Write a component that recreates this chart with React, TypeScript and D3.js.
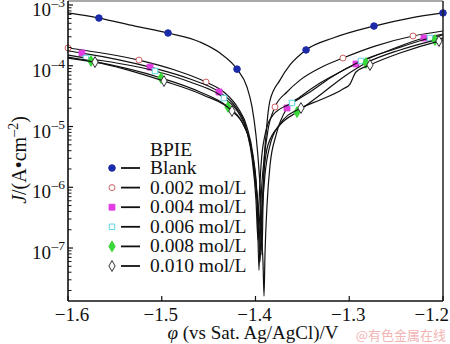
import React from 'react';
import * as d3 from 'd3';

// ---- data ----
const xTicks = [-1.6, -1.5, -1.4, -1.3, -1.2];
const yDecades = [-3, -4, -5, -6, -7];
const legendTitle = 'BPIE';
const seriesNames = ['Blank', '0.002 mol/L', '0.004 mol/L', '0.006 mol/L', '0.008 mol/L', '0.010 mol/L'];

const blankE = [-1.6, -1.567, -1.5285, -1.4933, -1.4592, -1.4379, -1.4197, -1.4091, -1.4037, -1.3995, -1.3963, -1.3941, -1.3931, -1.392, -1.3909, -1.3888, -1.3845, -1.3739, -1.3632, -1.3461, -1.3173, -1.2736, -1.2352, -1.2];
const blankJ = [7.4e-4, 6.1e-4, 4.5e-4, 3.46e-4, 2.46e-4, 1.62e-4, 8.8e-5, 4.47e-5, 2.1e-5, 7.2e-6, 1.92e-6, 4.2e-7, 7.7e-8, 5.1e-7, 2.3e-6, 7.2e-6, 2.7e-5, 5.8e-5, 1.03e-4, 1.82e-4, 2.86e-4, 4.5e-4, 6.1e-4, 7.4e-4];
const blankMarkE = [-1.567, -1.4933, -1.4197, -1.3461, -1.2736, -1.2];

const c002E = [-1.6, -1.5243, -1.4859, -1.4528, -1.4325, -1.4187, -1.4091, -1.4027, -1.3984, -1.3963, -1.3941, -1.3909, -1.3867, -1.3792, -1.3664, -1.3525, -1.3312, -1.3067, -1.2725, -1.232, -1.2];
const c002J = [1.96e-4, 1.24e-4, 8.5e-5, 5.4e-5, 3.56e-5, 2.02e-5, 9.8e-6, 3.4e-6, 7.5e-7, 4.3e-8, 6.2e-7, 2.8e-6, 8.7e-6, 2.1e-5, 3.7e-5, 5.8e-5, 9.2e-5, 1.34e-4, 2.11e-4, 3.09e-4, 3.73e-4];
const c002MarkE = [-1.6, -1.5243, -1.4528, -1.3792, -1.3067, -1.232];

const c004E = [-1.6, -1.5851, -1.5125, -1.4699, -1.4389, -1.4219, -1.4112, -1.4048, -1.3995, -1.3952, -1.392, -1.3909, -1.3899, -1.3877, -1.3845, -1.3781, -1.3664, -1.3525, -1.3312, -1.3099, -1.2928, -1.2565, -1.2203, -1.2];
const c004J = [1.75e-4, 1.62e-4, 9.5e-5, 6.05e-5, 3.7e-5, 2.17e-5, 1.1e-5, 4.4e-6, 1.09e-6, 2.39e-7, 5.9e-8, 1.62e-8, 7.7e-8, 5.1e-7, 2.3e-6, 7.2e-6, 2.02e-5, 3.06e-5, 5.2e-5, 7.9e-5, 1.07e-4, 1.82e-4, 2.86e-4, 3.33e-4];
const c004MarkE = [-1.5851, -1.5125, -1.4389, -1.3664, -1.2928, -1.2203];

const c006E = [-1.6, -1.5808, -1.5072, -1.4699, -1.4336, -1.4187, -1.4091, -1.4037, -1.3995, -1.3973, -1.3963, -1.3941, -1.3899, -1.3813, -1.3611, -1.3419, -1.3205, -1.2875, -1.2512, -1.2139, -1.2];
const c006J = [1.5e-4, 1.34e-4, 8.2e-5, 5.4e-5, 2.94e-5, 1.73e-5, 8.1e-6, 3.0e-6, 6.2e-7, 1.35e-7, 5.1e-7, 2.3e-6, 7.2e-6, 1.55e-5, 2.44e-5, 3.7e-5, 6.3e-5, 1.2e-4, 1.89e-4, 2.86e-4, 3.21e-4];
const c006MarkE = [-1.5808, -1.5072, -1.4336, -1.3611, -1.2875, -1.2139];

const c008E = [-1.6, -1.5755, -1.5008, -1.4592, -1.4293, -1.4144, -1.4059, -1.4005, -1.3973, -1.3941, -1.3931, -1.3909, -1.3867, -1.3739, -1.3557, -1.3312, -1.3045, -1.2821, -1.2459, -1.2085, -1.2];
const c008J = [1.39e-4, 1.2e-4, 6.3e-5, 3.7e-5, 2.1e-5, 1.19e-5, 5.6e-6, 1.78e-6, 4.2e-7, 9.3e-8, 3.9e-7, 1.78e-6, 4.96e-6, 1.06e-5, 1.73e-5, 3.3e-5, 6.8e-5, 1.11e-4, 1.82e-4, 2.65e-4, 2.86e-4];
const c008MarkE = [-1.5755, -1.5008, -1.4293, -1.3557, -1.2821, -1.2085];

const c010E = [-1.6, -1.5712, -1.4976, -1.456, -1.4251, -1.4123, -1.4048, -1.4005, -1.3973, -1.3952, -1.3931, -1.3899, -1.3845, -1.3739, -1.3515, -1.3312, -1.3067, -1.2992, -1.2928, -1.2779, -1.2459, -1.2043, -1.2];
const c010J = [1.34e-4, 1.15e-4, 5.6e-5, 3.3e-5, 1.8e-5, 1.02e-5, 4.6e-6, 1.42e-6, 3.5e-7, 5.9e-8, 3.5e-7, 1.59e-6, 4.96e-6, 1.1e-5, 2.02e-5, 2.73e-5, 4.14e-5, 5.0e-5, 7.9e-5, 1.03e-4, 1.62e-4, 2.55e-4, 2.65e-4];
const c010MarkE = [-1.5712, -1.4976, -1.4251, -1.3515, -1.2779, -1.2043];

const W = 450, H = 344;
const M = { left: 68, right: 443, top: 1, bottom: 301 };
const SERIF = { fontFamily: "'Liberation Serif', 'Times New Roman', Times, serif" };
const DASH = '\u2013';

type Style = { symbol: d3.SymbolType; size: number; fill: string; stroke: string };
const styles: Style[] = [
  { symbol: d3.symbolCircle, size: 34, fill: '#1a2aa8', stroke: '#1a2aa8' },
  { symbol: d3.symbolCircle, size: 28, fill: '#ffffff', stroke: '#cc6060' },
  { symbol: d3.symbolSquare, size: 34, fill: '#e03ce0', stroke: '#e03ce0' },
  { symbol: d3.symbolSquare, size: 30, fill: '#ffffff', stroke: '#5cd6e0' },
  { symbol: d3.symbolDiamond, size: 34, fill: '#38d838', stroke: '#38d838' },
  { symbol: d3.symbolDiamond, size: 34, fill: '#ffffff', stroke: '#333333' },
];

const seriesData = [
  { E: blankE, J: blankJ, mk: blankMarkE },
  { E: c002E, J: c002J, mk: c002MarkE },
  { E: c004E, J: c004J, mk: c004MarkE },
  { E: c006E, J: c006J, mk: c006MarkE },
  { E: c008E, J: c008J, mk: c008MarkE },
  { E: c010E, J: c010J, mk: c010MarkE },
];

function interpLog(E: number[], J: number[], e: number): number {
  for (let i = 0; i < E.length - 1; i++) {
    if (e >= E[i] - 1e-9 && e <= E[i + 1] + 1e-9) {
      const t = (e - E[i]) / (E[i + 1] - E[i]);
      return Math.pow(10, Math.log10(J[i]) + t * (Math.log10(J[i + 1]) - Math.log10(J[i])));
    }
  }
  return J[J.length - 1];
}

export default function App() {
  const x = d3.scaleLinear().domain([-1.6, -1.2]).range([M.left, M.right]);
  const y = d3.scaleLog().domain([1.343e-8, 1.164e-3]).range([M.bottom, M.top]);
  const line = d3.line<[number, number]>().x(d => x(d[0])).y(d => y(d[1])).curve(d3.curveMonotoneX);

  const minor: number[] = [];
  for (let k = -9; k <= -3; k++) {
    for (let m = 2; m <= 9; m++) {
      const v = m * Math.pow(10, k);
      if (v > y.domain()[0] && v < y.domain()[1]) minor.push(v);
    }
  }

  const legendRows = [174, 193.6, 213.2, 232.8, 252.4, 272];

  return (
    <svg width={W} height={H} style={{ position: 'absolute', left: 0, top: 0, background: '#fff' }}>
      <rect x={0} y={0} width={W} height={H} fill="#fff" />
      {/* curves + markers */}
      {seriesData.map((s, i) => {
        const pts = s.E.map((e, j) => [e, s.J[j]] as [number, number]);
        const st = styles[i];
        const sym = d3.symbol().type(st.symbol).size(st.size)();
        return (
          <g key={i}>
            <path d={line(pts) || ''} fill="none" stroke="#111" strokeWidth={1.2} />
            {s.mk.map((e, j) => (
              <path key={j} d={sym || ''} transform={`translate(${x(e)},${y(interpLog(s.E, s.J, e))})`}
                fill={st.fill} stroke={st.stroke} strokeWidth={1} />
            ))}
          </g>
        );
      })}
      {/* frame */}
      <line x1={M.left} x2={M.right} y1={M.top} y2={M.top} stroke="#555" strokeWidth={1.2} />
      <line x1={M.right} x2={M.right} y1={M.top} y2={M.bottom} stroke="#222" strokeWidth={1.5} />
      <line x1={M.left} x2={M.left} y1={M.top} y2={M.bottom} stroke="#111" strokeWidth={1.6} />
      <line x1={M.left} x2={M.right} y1={M.bottom} y2={M.bottom} stroke="#111" strokeWidth={1.6} />
      {/* x ticks */}
      {xTicks.map((t, i) => {
        const last = i === xTicks.length - 1;
        const first = i === 0;
        return (
          <g key={t}>
            <line x1={x(t)} x2={x(t)} y1={M.bottom} y2={M.bottom - 5} stroke="#111" strokeWidth={1.2} />
            <text x={last ? 449 : x(t) + (first ? 4 : -1)} y={321} textAnchor={last ? 'end' : 'middle'}
              fontSize={19} fill="#111" style={SERIF}>{d3.format('.1f')(t).replace('-', DASH)}</text>
          </g>
        );
      })}
      {/* y ticks */}
      {yDecades.map(k => {
        const yy = y(Math.pow(10, k));
        return (
          <g key={k}>
            <line x1={M.left} x2={M.left + 5} y1={yy} y2={yy} stroke="#111" strokeWidth={1.2} />
            <text x={51} y={yy + 11} textAnchor="end" fontSize={19} fill="#111" style={SERIF}>10</text>
            <text x={51.5} y={yy + 2} textAnchor="start" fontSize={13.5} fill="#111" style={SERIF}>{DASH + (-k)}</text>
          </g>
        );
      })}
      {minor.map((v, i) => (
        <line key={i} x1={M.left} x2={M.left + 3.5} y1={y(v)} y2={y(v)} stroke="#111" strokeWidth={1} />
      ))}
      {/* axis titles */}
      <text transform="translate(26,160) rotate(-90)" textAnchor="middle" fontSize={20} fill="#111" style={SERIF}>
        <tspan fontStyle="italic">J</tspan>
        <tspan>/(A•cm</tspan>
        <tspan fontSize={14} dy={-8}>{DASH + '2'}</tspan>
        <tspan dy={8}>)</tspan>
      </text>
      <text x={253} y={339} textAnchor="middle" fontSize={19} fill="#111" style={SERIF}>
        <tspan fontStyle="italic">φ</tspan>
        <tspan> (vs Sat. Ag/AgCl)/V</tspan>
      </text>
      {/* legend */}
      <text x={150} y={156} fontSize={19.5} fill="#111" style={SERIF}>{legendTitle}</text>
      {seriesNames.map((n, i) => {
        const st = styles[i];
        const sym = d3.symbol().type(st.symbol).size(st.size)();
        const by = legendRows[i];
        return (
          <g key={n}>
            <path d={sym || ''} transform={`translate(112,${by - 6})`} fill={st.fill} stroke={st.stroke} strokeWidth={1} />
            <line x1={121} x2={140} y1={by - 6} y2={by - 6} stroke="#111" strokeWidth={1.8} />
            <text x={150} y={by} fontSize={19.5} fill="#111" style={SERIF}>{n}</text>
          </g>
        );
      })}
      {/* watermark */}
      <text x={446} y={340} textAnchor="end" fontSize={13} fill="#f2b4b4"
        style={{ fontFamily: "'Noto Sans CJK SC', sans-serif" }}>@有色金属在线</text>
    </svg>
  );
}
